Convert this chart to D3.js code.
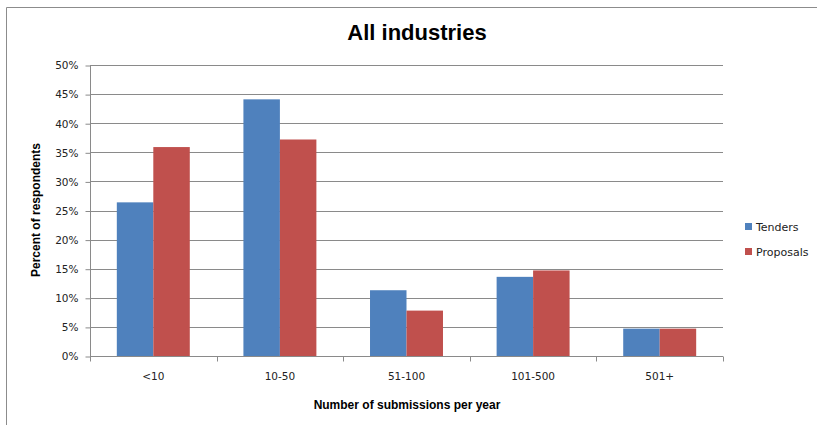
<!DOCTYPE html>
<html>
<head>
<meta charset="utf-8">
<script src="https://cdn.jsdelivr.net/npm/d3@7"></script>
<style>
  html, body { margin: 0; padding: 0; background: #fff; }
  svg { display: block; }
</style>
</head>
<body>
<svg id="chart" width="817" height="425"></svg>
<script>
// Share of respondents by number of submissions per year
const categories = ["<10", "10-50", "51-100", "101-500", "501+"];
const seriesNames = ["Tenders", "Proposals"];
const tenders = [0.264, 0.441, 0.113, 0.136, 0.047];
const proposals = [0.359, 0.372, 0.078, 0.147, 0.047];
const yTicks = [0, 0.05, 0.10, 0.15, 0.20, 0.25, 0.30, 0.35, 0.40, 0.45, 0.50];
const colors = ["#4F81BD", "#C0504D"];

const svg = d3.select("#chart");
const plot = { left: 90, right: 723, top: 65, bottom: 356 };

// Outer chart frame (top and left edges visible)
svg.append("path")
  .attr("d", "M6.5,425 V7.5 H817")
  .attr("fill", "none").attr("stroke", "#8c8c8c").attr("stroke-width", 1);

const x = d3.scaleBand().domain(categories).range([plot.left, plot.right]).paddingInner(0).paddingOuter(0);
const xs = d3.scaleBand().domain(seriesNames).range([0, x.bandwidth()]).paddingInner(0).paddingOuter(0.735);
const y = d3.scaleLinear().domain([0, 0.5]).range([plot.bottom, plot.top]);

// Horizontal gridlines
svg.append("g").selectAll("line").data(yTicks.slice(1)).join("line")
  .attr("x1", plot.left).attr("x2", plot.right)
  .attr("y1", d => Math.round(y(d)) + 0.5).attr("y2", d => Math.round(y(d)) + 0.5)
  .attr("stroke", "#8a8a8a").attr("stroke-width", 1);

// Bars
const rows = categories.map((c, i) => ({ c, vals: [tenders[i], proposals[i]] }));
const groups = svg.append("g").selectAll("g").data(rows).join("g")
  .attr("transform", d => `translate(${x(d.c)},0)`);
groups.selectAll("rect").data(d => d.vals.map((v, j) => ({ v, s: seriesNames[j], j }))).join("rect")
  .attr("x", d => xs(d.s))
  .attr("width", xs.bandwidth())
  .attr("y", d => y(d.v))
  .attr("height", d => y(0) - y(d.v))
  .attr("fill", d => colors[d.j]);

// Y axis
const yAxis = d3.axisLeft(y).tickValues(yTicks).tickFormat(d3.format(".0%")).tickSize(5).tickPadding(7);
const gy = svg.append("g").attr("transform", `translate(${plot.left + 0.5},0.5)`).call(yAxis);
gy.select(".domain").attr("stroke", "#8a8a8a").attr("d", `M0,${plot.top} V${plot.bottom}`);
gy.selectAll(".tick line").attr("stroke", "#8a8a8a");
gy.selectAll("text").attr("font-family", "DejaVu Sans, Verdana, sans-serif").attr("font-size", 10.5).attr("fill", "#222");

// X axis
const xAxis = d3.axisBottom(x).tickSize(0).tickPadding(16);
const gx = svg.append("g").attr("transform", `translate(0,${plot.bottom + 0.5})`).call(xAxis);
gx.select(".domain").attr("stroke", "#8a8a8a").attr("d", `M${plot.left},0 H${plot.right}`);
gx.selectAll("text").attr("font-family", "DejaVu Sans, Verdana, sans-serif").attr("font-size", 10.5).attr("fill", "#222");
// Category separator ticks
gx.append("g").selectAll("line").data(d3.range(categories.length + 1)).join("line")
  .attr("x1", i => Math.round(plot.left + i * x.step()) + 0.5)
  .attr("x2", i => Math.round(plot.left + i * x.step()) + 0.5)
  .attr("y1", 0).attr("y2", 5).attr("stroke", "#8a8a8a");

// Title
svg.append("text").attr("x", 417).attr("y", 40).attr("text-anchor", "middle")
  .attr("font-family", "Liberation Sans Narrow, Liberation Sans, Arial, sans-serif")
  .attr("font-weight", "bold").attr("font-size", 22).attr("fill", "#000")
  .text("All industries");

// Axis titles
svg.append("text").attr("x", 407).attr("y", 409).attr("text-anchor", "middle")
  .attr("font-family", "Liberation Sans Narrow, Liberation Sans, Arial, sans-serif")
  .attr("font-weight", "bold").attr("font-size", 12).attr("fill", "#000")
  .text("Number of submissions  per year");
svg.append("text").attr("transform", "translate(40,210) rotate(-90)").attr("text-anchor", "middle")
  .attr("font-family", "Liberation Sans Narrow, Liberation Sans, Arial, sans-serif")
  .attr("font-weight", "bold").attr("font-size", 12).attr("fill", "#000")
  .text("Percent of respondents");

// Legend
const legend = svg.append("g").selectAll("g").data(seriesNames).join("g")
  .attr("transform", (d, i) => `translate(745,${223 + i * 25})`);
legend.append("rect").attr("width", 7).attr("height", 7).attr("y", 0)
  .attr("fill", (d, i) => colors[i]);
legend.append("text").attr("x", 11).attr("y", 8)
  .attr("font-family", "DejaVu Sans, Verdana, sans-serif").attr("font-size", 11).attr("fill", "#222")
  .text(d => d);
</script>
</body>
</html>
